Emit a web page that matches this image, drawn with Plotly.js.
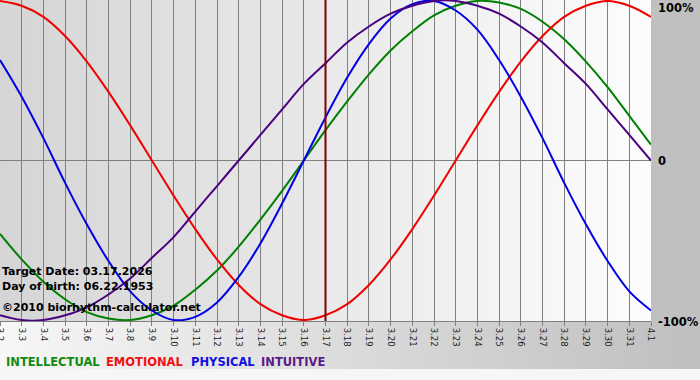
<!DOCTYPE html>
<html>
<head>
<meta charset="utf-8">
<script src="https://cdn.plot.ly/plotly-3.0.1.min.js"></script>
<style>
  html, body { margin: 0; padding: 0; }
  #chart { width: 700px; height: 380px; }
</style>
</head>
<body>
<div id="chart"></div>
<script>
// Day labels (month.day)
const days = ["3.2","3.3","3.4","3.5","3.6","3.7","3.8","3.9","3.10","3.11","3.12","3.13","3.14","3.15","3.16","3.17","3.18","3.19","3.20","3.21","3.22","3.23","3.24","3.25","3.26","3.27","3.28","3.29","3.30","3.31","4.1"];

// Values (-1 .. 1)
const intellectual = [-0.46,-0.62,-0.76,-0.87,-0.95,-0.99,-1.00,-0.97,-0.91,-0.81,-0.69,-0.54,-0.37,-0.19,0.00,0.19,0.37,0.54,0.69,0.81,0.91,0.97,1.00,0.99,0.95,0.87,0.76,0.62,0.46,0.28,0.10];
const emotional    = [1.00,0.97,0.90,0.78,0.62,0.43,0.22,0.00,-0.22,-0.43,-0.62,-0.78,-0.90,-0.97,-1.00,-0.97,-0.90,-0.78,-0.62,-0.43,-0.22,0.00,0.22,0.43,0.62,0.78,0.90,0.97,1.00,0.97,0.90];
const physical     = [0.63,0.40,0.14,-0.14,-0.40,-0.63,-0.82,-0.94,-1.00,-0.98,-0.89,-0.73,-0.52,-0.27,0.00,0.27,0.52,0.73,0.89,0.98,1.00,0.94,0.82,0.63,0.40,0.14,-0.14,-0.40,-0.63,-0.82,-0.94];
const intuitive    = [-0.97,-1.00,-1.00,-0.97,-0.92,-0.84,-0.74,-0.61,-0.48,-0.32,-0.16,0.00,0.16,0.32,0.48,0.61,0.74,0.84,0.92,0.97,1.00,1.00,0.97,0.92,0.84,0.74,0.61,0.48,0.32,0.16,0.00];

const seriesNames = ["INTELLECTUAL","EMOTIONAL","PHYSICAL","INTUITIVE"];
const targetDay = "3.17";
const infoLines = ["Target Date: 03.17.2026","Day of birth: 06.22.1953","©2010 biorhythm-calculator.net"];
const yLabels = ["100%","0","-100%"];

// ---- background painted on a canvas ----
(function(){
  const W = 700, H = 380, PW = 651, PH = 321;
  const c = document.createElement('canvas');
  c.width = W; c.height = H;
  const g = c.getContext('2d');
  g.fillStyle = '#f6f6f6'; g.fillRect(0,0,W,H);
  // bottom band gradient
  let gr = g.createLinearGradient(0,0,W,0);
  gr.addColorStop(0,'#f7f7f7'); gr.addColorStop(1,'#bfbfbf');
  g.fillStyle = gr; g.fillRect(0,PH,W,369-PH);
  // right strip
  g.fillStyle = '#c0c0c0'; g.fillRect(PW,0,W-PW,PH);
  // plot area gradient
  gr = g.createLinearGradient(0,0,PW,0);
  gr.addColorStop(0,'#d5d5d5'); gr.addColorStop(1,'#fdfdfd');
  g.fillStyle = gr; g.fillRect(0,0,PW,PH);
  document.getElementById('chart').style.background = 'url(' + c.toDataURL() + ') no-repeat';
})();

const colors = ['#008000','#f00000','#0000e6','#4b0082'];
const legendColors = ['#108a10','#f01010','#1010e0','#5a1a8a'];
const data = [intellectual, emotional, physical, intuitive].map((v,i) => ({
  x: days, y: v, type: 'scatter', mode: 'lines', name: seriesNames[i],
  line: {color: colors[i], width: 2, shape: 'spline', smoothing: 1},
  hoverinfo: 'skip'
}));

const PH = 321;
const py = p => 1 - p / PH;
const annotations = [];
const infoY = [271, 286, 307];
infoLines.forEach((t,i) => annotations.push({
  text: '<b>' + t + '</b>', xref: 'paper', yref: 'paper', x: 0, y: py(infoY[i]),
  xanchor: 'left', yanchor: 'middle', showarrow: false,
  font: {family: 'DejaVu Sans', size: 11, color: '#000'}
}));
const yLabY = [8, 161, 322];
yLabels.forEach((t,i) => annotations.push({
  text: '<b>' + t + '</b>', xref: 'paper', yref: 'paper', x: 656/651, y: py(yLabY[i]),
  xanchor: 'left', yanchor: 'middle', showarrow: false,
  font: {family: 'DejaVu Sans', size: 11.5, color: '#000'}
}));
const legX = [4, 104, 189, 259];
seriesNames.forEach((t,i) => annotations.push({
  text: '<b>' + t + '</b>', xref: 'paper', yref: 'paper', x: legX[i]/651, y: py(362),
  xanchor: 'left', yanchor: 'middle', showarrow: false,
  font: {family: 'DejaVu Sans', size: 11.5, color: legendColors[i]}
}));

const layout = {
  width: 700, height: 380,
  margin: {l: 0, r: 49, t: 0, b: 59, pad: 0},
  paper_bgcolor: 'rgba(0,0,0,0)', plot_bgcolor: 'rgba(0,0,0,0)',
  showlegend: false,
  xaxis: {
    type: 'category', range: [0, days.length - 1], fixedrange: true,
    showgrid: true, gridcolor: '#808080', gridwidth: 1,
    showline: true, linecolor: '#808080', linewidth: 1,
    ticks: 'outside', ticklen: 4, tickcolor: '#808080',
    tickangle: 90, tickfont: {family: 'DejaVu Sans', size: 8.5, color: '#222'},
    automargin: false
  },
  yaxis: {
    range: [-1.006, 1.006], fixedrange: true,
    showgrid: false, showticklabels: false, ticks: '',
    zeroline: true, zerolinecolor: '#808080', zerolinewidth: 1,
    automargin: false
  },
  shapes: [{
    type: 'line', xref: 'x', yref: 'paper',
    x0: days.indexOf(targetDay), x1: days.indexOf(targetDay), y0: 0, y1: 1,
    line: {color: '#800000', width: 2}, layer: 'above'
  }],
  annotations: annotations
};

Plotly.newPlot('chart', data, layout, {staticPlot: true, displayModeBar: false});
</script>
</body>
</html>
